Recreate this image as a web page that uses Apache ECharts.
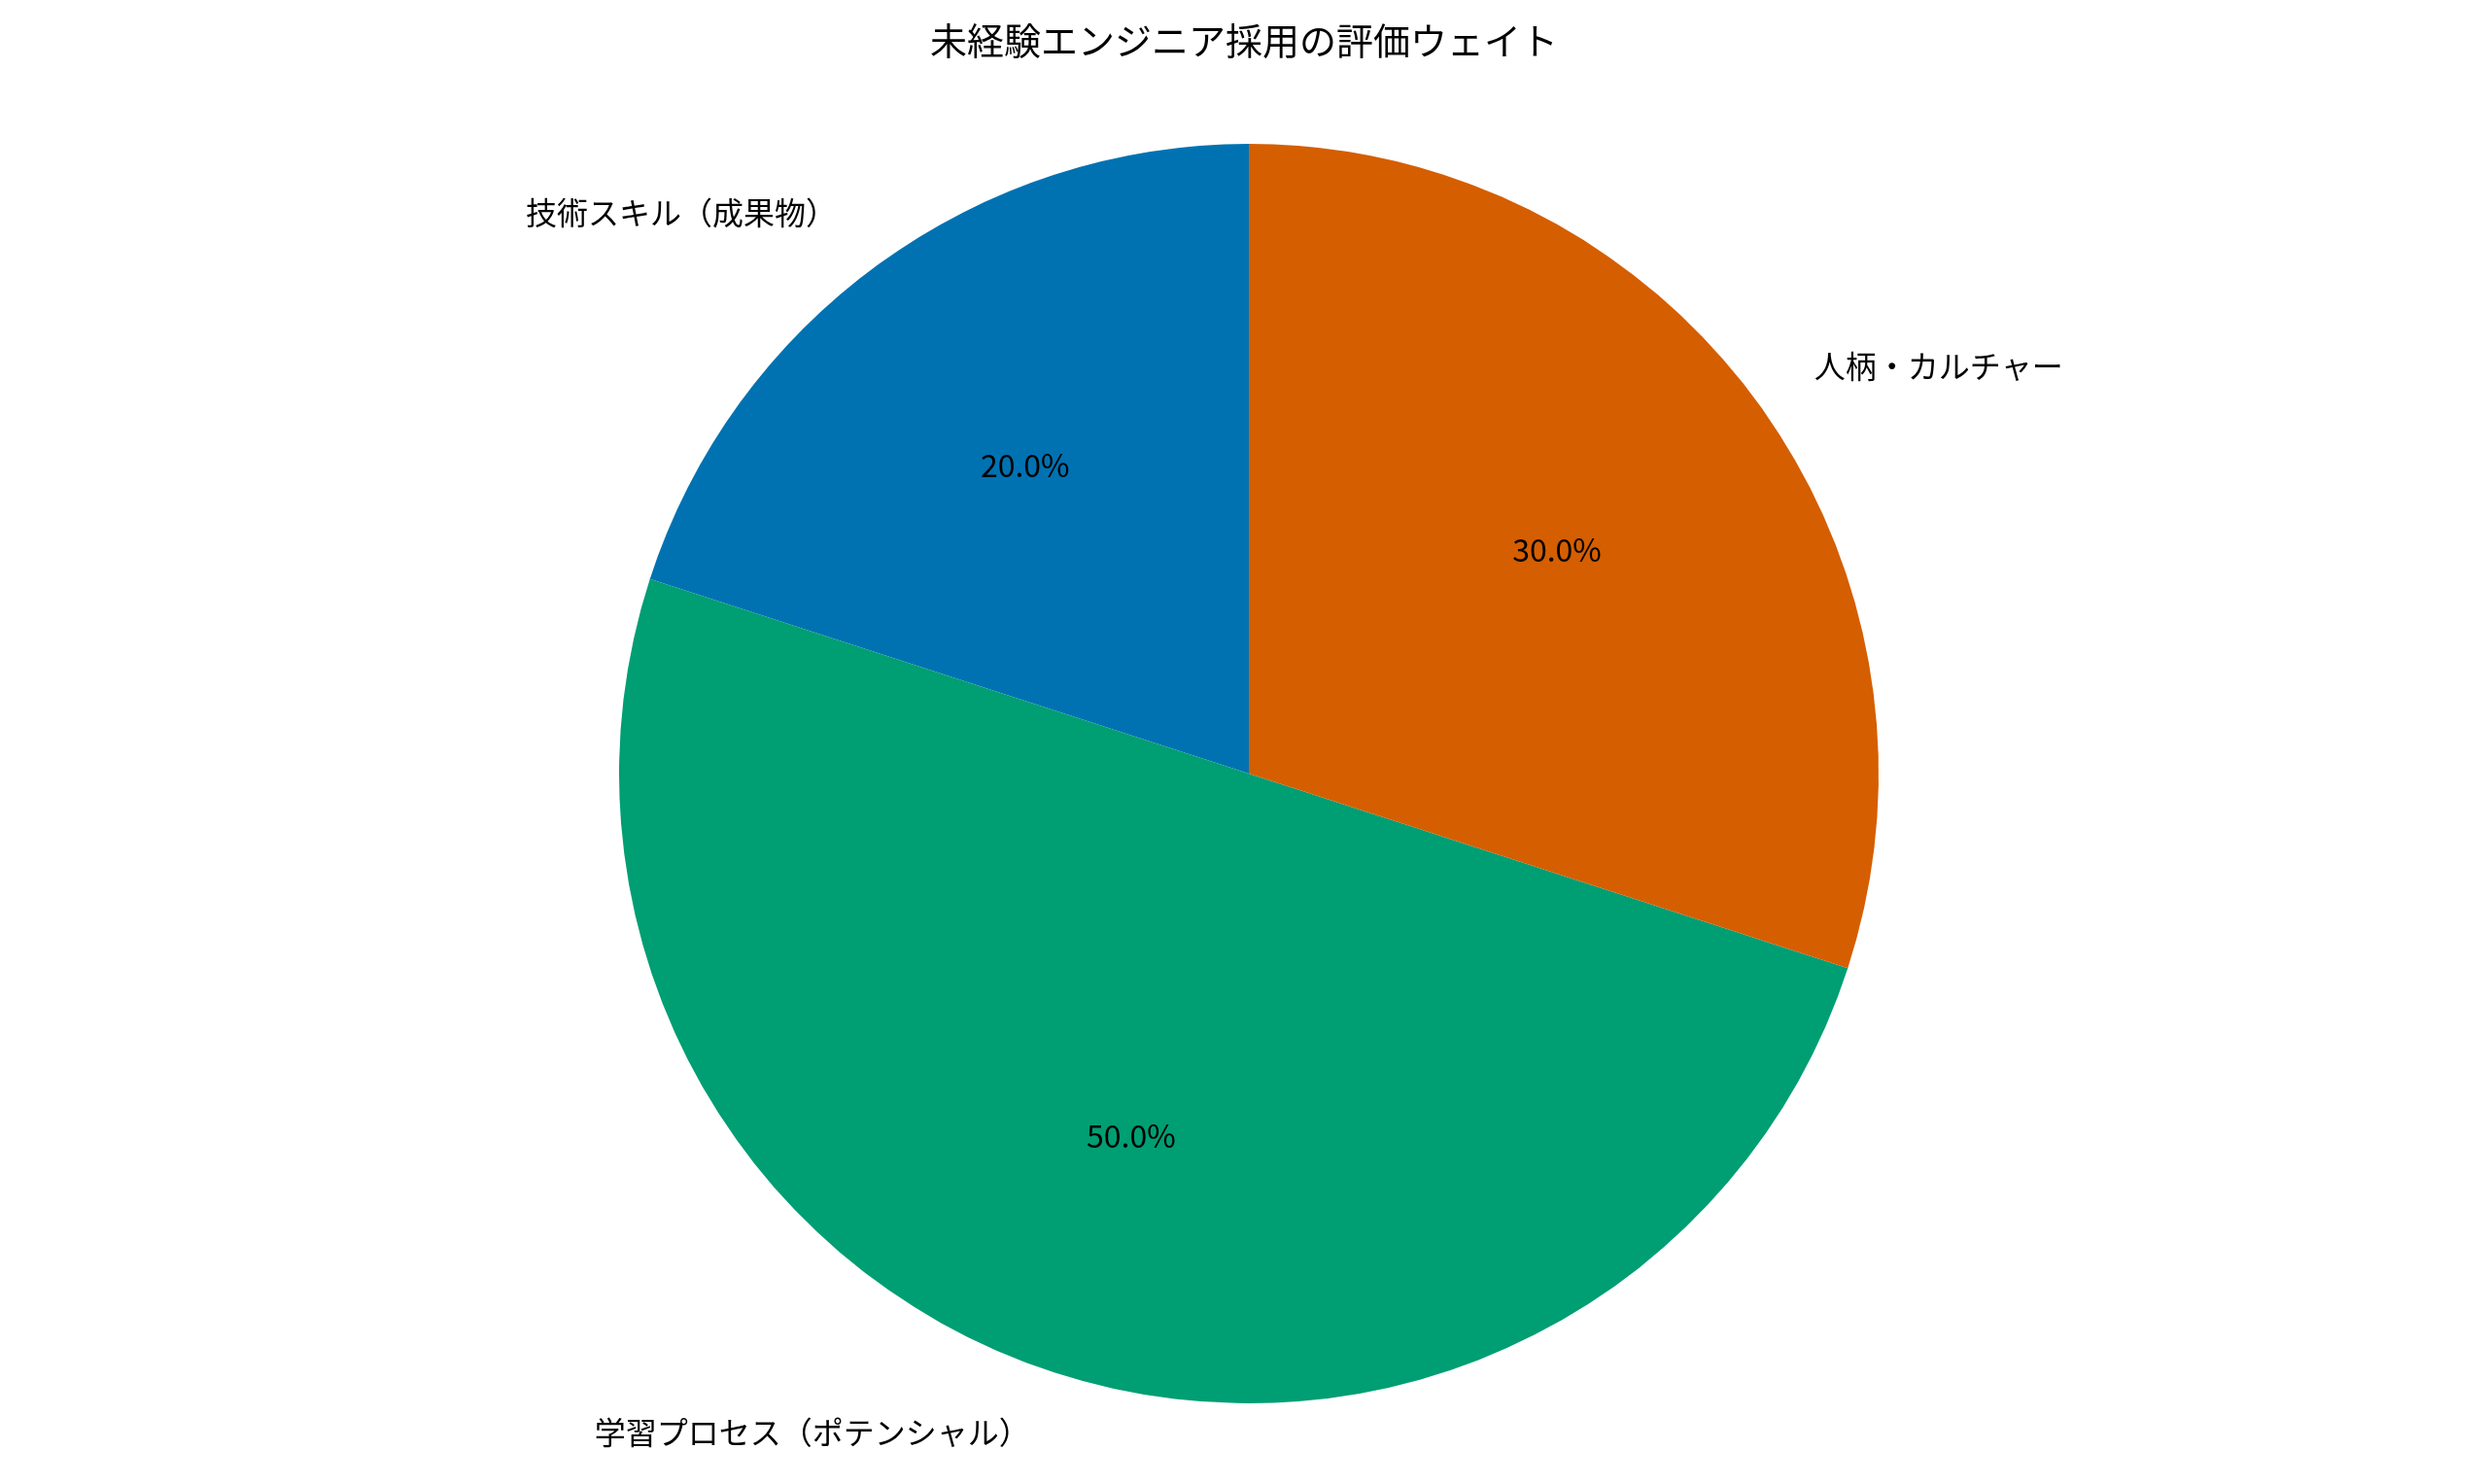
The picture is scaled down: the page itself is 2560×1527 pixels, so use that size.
<!DOCTYPE html>
<html>
<head>
<meta charset="utf-8">
<script src="https://cdn.jsdelivr.net/npm/echarts@6/dist/echarts.min.js"></script>
<style>html,body{margin:0;padding:0;background:#fff}#chart{width:2560px;height:1527px}</style>
</head>
<body>
<div id="chart"></div>
<script>
const categories = ['技術スキル（成果物）', '学習プロセス（ポテンシャル）', '人柄・カルチャー'];
const weights = [20, 50, 30];
const colors = ['#0072B2', '#009E73', '#D55E00'];

const font = '"Noto Sans CJK JP", "Noto Sans", sans-serif';
const R = 648;
const center = [1285, 796];
const pieData = categories.map((name, i) => ({ name, value: weights[i], itemStyle: { color: colors[i] } }));

const chart = echarts.init(document.getElementById('chart'));
chart.setOption({
    animation: false,
    title: {
        text: '未経験エンジニア採用の評価ウェイト',
        left: 'center',
        top: 18,
        textStyle: { fontFamily: font, fontSize: 38, fontWeight: 'normal', color: '#000' }
    },
    series: [
        {
            type: 'pie',
            center: center,
            radius: [0, R],
            startAngle: 90,
            clockwise: false,
            data: pieData,
            label: {
                position: 'outside',
                fontFamily: font,
                fontSize: 32,
                color: '#000',
                formatter: '{b}'
            },
            labelLine: { show: false, length: R * 0.1, length2: 0 },
            emphasis: { disabled: true }
        },
        {
            type: 'pie',
            center: center,
            radius: [0, R * 1.2],
            startAngle: 90,
            clockwise: false,
            silent: true,
            data: categories.map((name, i) => ({ name, value: weights[i], itemStyle: { color: 'rgba(0,0,0,0)' } })),
            label: {
                position: 'inside',
                fontFamily: font,
                fontSize: 32,
                color: '#000',
                formatter: p => p.value.toFixed(1) + '%'
            },
            labelLine: { show: false }
        }
    ]
});
</script>
</body>
</html>
